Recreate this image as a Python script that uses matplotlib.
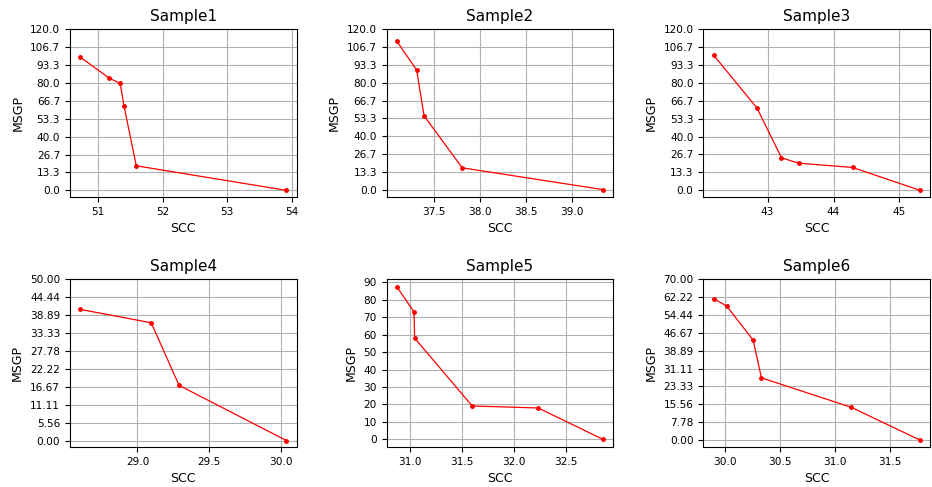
import numpy as np
import matplotlib
matplotlib.use('Agg')
import matplotlib.pyplot as plt
from matplotlib.ticker import FormatStrFormatter

titles = ['Sample1', 'Sample2', 'Sample3', 'Sample4', 'Sample5', 'Sample6']

scc1 = [50.72, 51.17, 51.34, 51.40, 51.59, 53.92]
msgp1 = [99.2, 83.6, 79.6, 62.8, 18.3, 0.0]
scc2 = [37.10, 37.315, 37.395, 37.81, 39.34]
msgp2 = [111.0, 89.4, 55.2, 16.3, 0.0]
scc3 = [42.18, 42.84, 43.21, 43.47, 44.29, 45.31]
msgp3 = [100.7, 61.2, 24.2, 20.2, 17.0, 0.0]
scc4 = [28.60, 29.096, 29.29, 30.04]
msgp4 = [40.66, 36.5, 17.1, 0.0]
scc5 = [30.878, 31.042, 31.048, 31.60, 32.234, 32.856]
msgp5 = [87.3, 73.0, 58.0, 19.15, 18.0, 0.0]
scc6 = [29.90, 30.018, 30.258, 30.333, 31.145, 31.767]
msgp6 = [61.56, 58.36, 43.5, 27.07, 14.26, 0.0]

ytop = [120, 120, 120, 50, 90, 70]
yfmt = ['%.1f', '%.1f', '%.1f', '%.2f', '%d', '%.2f']
xticks = [[51, 52, 53, 54], [37.5, 38.0, 38.5, 39.0], [43, 44, 45],
          [29.0, 29.5, 30.0], [31.0, 31.5, 32.0, 32.5], [30.0, 30.5, 31.0, 31.5]]

sccs = [scc1, scc2, scc3, scc4, scc5, scc6]
msgps = [msgp1, msgp2, msgp3, msgp4, msgp5, msgp6]

fig = plt.figure(figsize=(9.32, 4.87), dpi=100)
for i in range(6):
    ax = fig.add_subplot(2, 3, i + 1)
    ax.plot(sccs[i], msgps[i], color='red', marker='o', ms=2.5, lw=0.9)
    ax.set_title(titles[i], fontsize=11)
    ax.set_xlabel('SCC', fontsize=9)
    ax.set_ylabel('MSGP', fontsize=9)
    ax.set_yticks(np.linspace(0, ytop[i], 10))
    ax.yaxis.set_major_formatter(FormatStrFormatter(yfmt[i]))
    ax.set_xticks(xticks[i])
    ax.tick_params(labelsize=7.6)
    ax.grid(True)

plt.subplots_adjust(left=0.075, right=0.998, top=0.94, bottom=0.082, wspace=0.396, hspace=0.49)
plt.savefig('out.png', dpi=100)
